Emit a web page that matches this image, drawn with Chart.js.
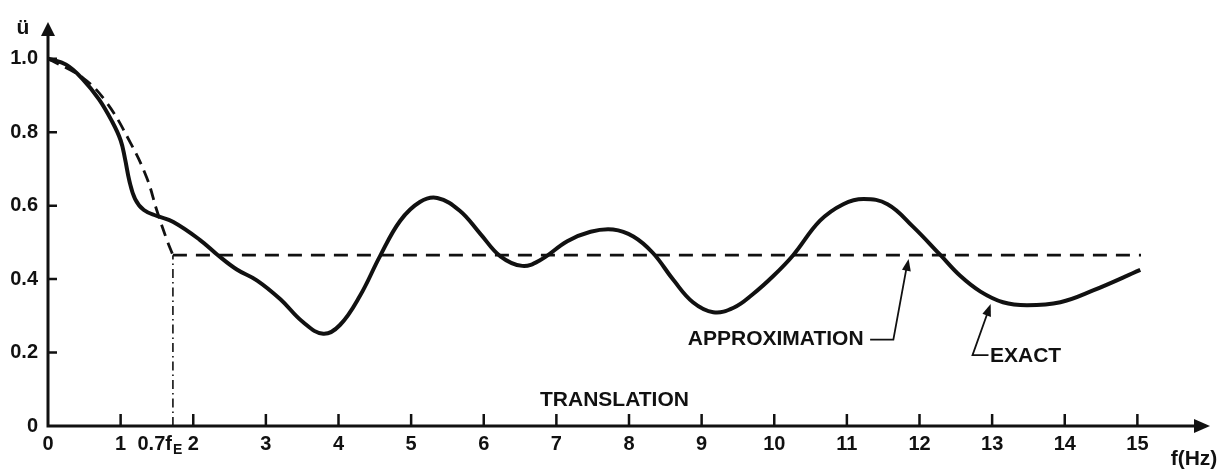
<!DOCTYPE html>
<html>
<head>
<meta charset="utf-8">
<script src="https://cdn.jsdelivr.net/npm/chart.js@4"></script>
<style>
  html, body { margin: 0; padding: 0; background: #fff; }
  #wrap { width: 1228px; height: 472px; }
</style>
</head>
<body>
<div id="wrap"><canvas id="chart"></canvas></div>
<script>
// exact response
const exactX = [0, 0.25, 0.48, 0.70, 0.88, 1.00, 1.06, 1.12, 1.20, 1.32, 1.50, 1.72, 2.09, 2.34, 2.60, 2.88, 3.20, 3.51, 3.79, 4.02, 4.30, 4.57, 4.85, 5.12, 5.36, 5.67, 5.95, 6.23, 6.53, 6.78, 7.15, 7.47, 7.78, 8.06, 8.33, 8.61, 8.88, 9.16, 9.44, 9.70, 9.99, 10.26, 10.63, 10.95, 11.23, 11.56, 11.91, 12.29, 12.56, 12.84, 13.15, 13.48, 13.94, 14.39, 15.04];
const exactY = [1.0, 0.984, 0.944, 0.89, 0.83, 0.778, 0.728, 0.668, 0.618, 0.588, 0.572, 0.556, 0.507, 0.465, 0.426, 0.396, 0.345, 0.283, 0.251, 0.275, 0.356, 0.462, 0.559, 0.610, 0.621, 0.586, 0.524, 0.462, 0.436, 0.452, 0.503, 0.529, 0.535, 0.516, 0.471, 0.398, 0.337, 0.310, 0.322, 0.358, 0.409, 0.465, 0.559, 0.604, 0.618, 0.604, 0.543, 0.465, 0.409, 0.366, 0.337, 0.329, 0.337, 0.369, 0.425];

// approximation: falling part, then flat
const approxCurveX = [0, 0.48, 0.81, 1.13, 1.36, 1.50, 1.64, 1.72];
const approxCurveY = [1.0, 0.948, 0.88, 0.773, 0.676, 0.586, 0.505, 0.465];
const approxFlatX = [1.72, 15.05];
const approxFlatY = [0.465, 0.465];

// 0.7 fE marker
const cornerX = [1.72, 1.72];
const cornerY = [0, 0.465];

const xTicks = [0, 1, 2, 3, 4, 5, 6, 7, 8, 9, 10, 11, 12, 13, 14, 15];
const yTicks = [0, 0.2, 0.4, 0.6, 0.8, 1.0];

const ink = '#111';
const FONT = '"Liberation Sans", Arial, sans-serif';

const pts = (xs, ys) => xs.map((v, i) => ({ x: v, y: ys[i] }));

function arrowHead(ctx, fx, fy, tx, ty, len, half) {
  const a = Math.atan2(ty - fy, tx - fx);
  ctx.beginPath();
  ctx.moveTo(tx, ty);
  ctx.lineTo(tx - len * Math.cos(a) + half * Math.sin(a), ty - len * Math.sin(a) - half * Math.cos(a));
  ctx.lineTo(tx - len * Math.cos(a) - half * Math.sin(a), ty - len * Math.sin(a) + half * Math.cos(a));
  ctx.closePath();
  ctx.fill();
}

const decor = {
  id: 'decor',
  afterDraw(chart) {
    const { ctx, scales: { x, y } } = chart;
    const X = v => x.getPixelForValue(v);
    const Y = v => y.getPixelForValue(v);
    const x0 = X(0), y0 = Y(0), xEnd = X(x.max), yEnd = Y(y.max);

    ctx.save();
    ctx.strokeStyle = ink;
    ctx.fillStyle = ink;
    ctx.lineCap = 'butt';

    // axes
    ctx.lineWidth = 3;
    ctx.beginPath();
    ctx.moveTo(x0 - 1.5, y0); ctx.lineTo(xEnd - 10, y0);
    ctx.moveTo(x0, y0 + 1.5); ctx.lineTo(x0, yEnd + 10);
    ctx.stroke();
    arrowHead(ctx, x0, y0, xEnd, y0, 16, 7);
    arrowHead(ctx, x0, y0, x0, yEnd, 14, 7);

    // tick marks (inside)
    ctx.lineWidth = 2.5;
    ctx.beginPath();
    xTicks.forEach(v => { if (v) { ctx.moveTo(X(v), y0); ctx.lineTo(X(v), y0 - 12); } });
    yTicks.forEach(v => { if (v) { ctx.moveTo(x0, Y(v)); ctx.lineTo(x0 + 9, Y(v)); } });
    ctx.stroke();

    // texts
    ctx.font = 'bold 21px ' + FONT;
    ctx.textBaseline = 'middle';
    ctx.textAlign = 'center';
    ctx.fillText('ü', x0 - 25, yEnd + 6);
    ctx.fillText('f(Hz)', X(15.78), Y(-0.091));
    ctx.fillText('TRANSLATION', X(7.80), Y(0.07));
    ctx.textAlign = 'right';
    ctx.fillText('APPROXIMATION', X(11.23), Y(0.235));
    ctx.textAlign = 'left';
    ctx.fillText('EXACT', X(12.97), Y(0.19));

    // 0.7 fE label
    ctx.font = 'bold 20px ' + FONT;
    ctx.textAlign = 'right';
    ctx.fillText('0.7f', X(1.72) - 1, y0 + 18);
    ctx.font = 'bold 14px ' + FONT;
    ctx.textAlign = 'left';
    ctx.fillText('E', X(1.72), y0 + 24);

    // leaders
    ctx.lineWidth = 1.8;
    ctx.beginPath();
    ctx.moveTo(X(11.32), Y(0.235));
    ctx.lineTo(X(11.64), Y(0.235));
    ctx.lineTo(X(11.83), Y(0.44));
    ctx.stroke();
    arrowHead(ctx, X(11.64), Y(0.235), X(11.85), Y(0.455), 12, 4.5);

    ctx.beginPath();
    ctx.moveTo(X(12.95), Y(0.193));
    ctx.lineTo(X(12.73), Y(0.193));
    ctx.lineTo(X(12.95), Y(0.315));
    ctx.stroke();
    arrowHead(ctx, X(12.73), Y(0.193), X(12.98), Y(0.332), 12, 4.5);

    ctx.restore();
  }
};

new Chart(document.getElementById('chart'), {
  type: 'line',
  data: {
    datasets: [
      {
        data: pts(approxCurveX, approxCurveY),
        borderColor: ink, borderWidth: 2.8, borderDash: [12, 7],
        tension: 0.4, pointRadius: 0
      },
      {
        data: pts(approxFlatX, approxFlatY),
        borderColor: ink, borderWidth: 2.8, borderDash: [14, 9],
        pointRadius: 0
      },
      {
        data: pts(cornerX, cornerY),
        borderColor: ink, borderWidth: 1.6, borderDash: [9, 4, 1.5, 4],
        pointRadius: 0
      },
      {
        data: pts(exactX, exactY),
        borderColor: ink, borderWidth: 4,
        tension: 0.4, pointRadius: 0
      }
    ]
  },
  options: {
    animation: false,
    responsive: true,
    maintainAspectRatio: false,
    layout: { padding: { left: 0, right: 18, top: 14, bottom: 0 } },
    plugins: { legend: { display: false }, tooltip: { enabled: false } },
    scales: {
      x: {
        type: 'linear', min: 0, max: 16,
        grid: { display: false, drawTicks: false },
        border: { display: false },
        afterBuildTicks: s => { s.ticks = xTicks.map(v => ({ value: v })); },
        afterFit: s => { s.height = 46; },
        ticks: {
          color: ink, padding: 6, maxRotation: 0, autoSkip: false,
          font: { family: FONT, size: 20, weight: 'bold' },
          callback: v => String(v)
        }
      },
      y: {
        min: 0, max: 1.1,
        grid: { display: false, drawTicks: false },
        border: { display: false },
        afterBuildTicks: s => { s.ticks = yTicks.map(v => ({ value: v })); },
        afterFit: s => { s.width = 48; },
        ticks: {
          color: ink, padding: 10,
          font: { family: FONT, size: 20, weight: 'bold' },
          callback: v => v === 0 ? '0' : v.toFixed(1)
        }
      }
    }
  },
  plugins: [decor]
});
</script>
</body>
</html>
